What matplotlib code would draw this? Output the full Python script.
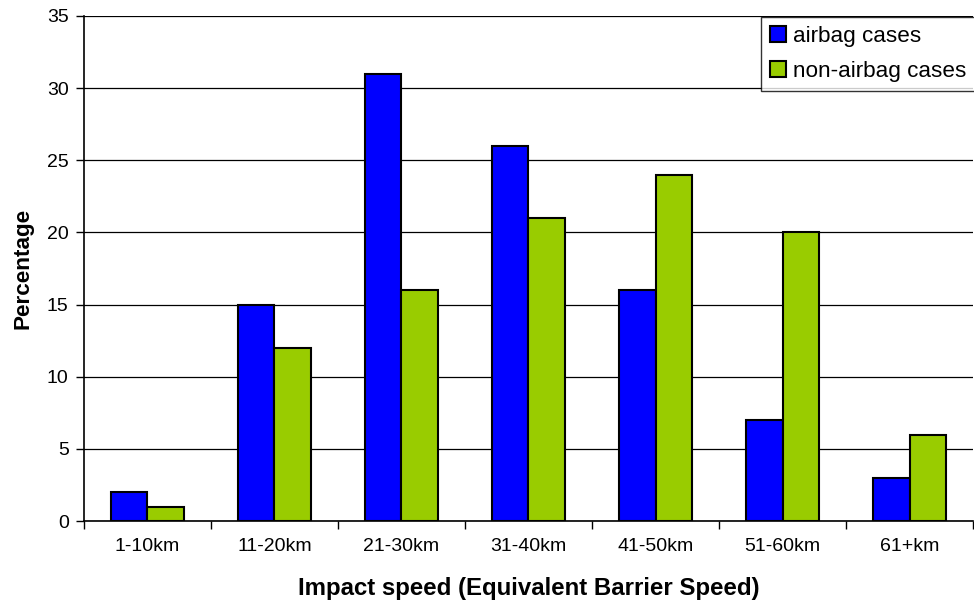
import matplotlib.pyplot as plt
import numpy as np

plt.rcParams['font.family'] = ['Liberation Sans', 'DejaVu Sans']

speed_bands = ['1-10km', '11-20km', '21-30km', '31-40km', '41-50km', '51-60km', '61+km']
airbag = [2, 15, 31, 26, 16, 7, 3]
non_airbag = [1, 12, 16, 21, 24, 20, 6]

width = 0.29
x = np.arange(len(speed_bands))

fig = plt.figure(figsize=(9.74, 6.06), dpi=100)
ax = fig.add_axes([0.0862, 0.140, 0.9128, 0.8336])

ax.bar(x - width / 2, airbag, width, color='#0000FF', edgecolor='black', linewidth=1.5,
       label='airbag cases', zorder=3)
ax.bar(x + width / 2, non_airbag, width, color='#99CC00', edgecolor='black', linewidth=1.5,
       label='non-airbag cases', zorder=3)

ax.set_xlim(-0.5, len(speed_bands) - 0.5)
ax.set_ylim(0, 35)
ax.set_yticks(np.arange(0, 36, 5))
ax.yaxis.grid(True, color='black', linewidth=0.9, zorder=0)

# ticks at category boundaries, labels in between
ax.set_xticks(np.arange(-0.5, len(speed_bands), 1))
ax.set_xticklabels([])
ax.set_xticks(x, minor=True)
ax.set_xticklabels(speed_bands, minor=True, fontsize=14)
ax.tick_params(axis='x', which='minor', length=0, pad=12)
ax.tick_params(axis='x', which='major', length=6, direction='out', width=1)
ax.tick_params(axis='y', length=6, direction='out', labelsize=14, pad=5, width=1)

for side in ['top', 'right']:
    ax.spines[side].set_visible(False)
for side in ['left', 'bottom']:
    ax.spines[side].set_linewidth(1.2)

ax.set_xlabel('Impact speed (Equivalent Barrier Speed)', fontsize=17.3, fontweight='bold', labelpad=16)
ax.set_ylabel('Percentage', fontsize=16.2, fontweight='bold', labelpad=10)

leg = ax.legend(loc='upper right', bbox_to_anchor=(1.003, 0.999), fontsize=16.2, frameon=True,
                fancybox=False, edgecolor='black', handlelength=0.68, handleheight=0.68,
                handletextpad=0.32, borderpad=0.42, labelspacing=0.62, borderaxespad=0)
leg.get_frame().set_linewidth(1.0)
for h in leg.legend_handles:
    h.set_linewidth(1.5)

plt.savefig('out.png', dpi=100)
